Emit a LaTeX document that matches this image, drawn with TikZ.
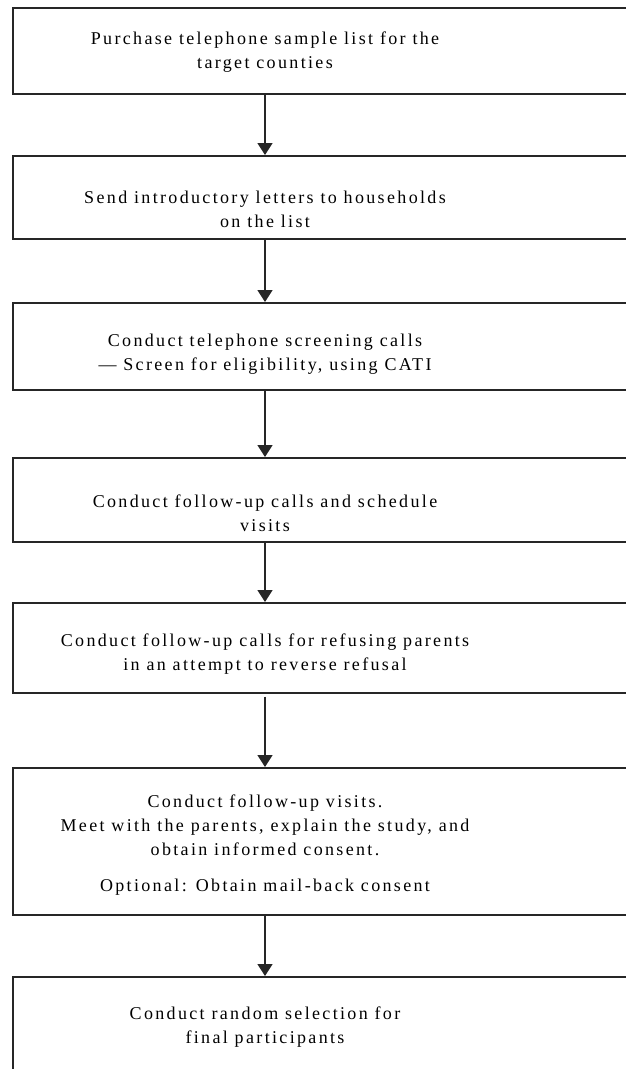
\documentclass[tikz,border=0pt]{standalone}
\usepackage{fontspec}
\setmainfont[LetterSpace=13]{Liberation Serif}
\usepackage{tikz}
\usetikzlibrary{arrows.meta}

\begin{document}
\begin{tikzpicture}[x=1pt,y=1pt,
  stepbox/.style={draw=black!85,line width=1.6pt,minimum width=660pt,anchor=north west,inner sep=0pt},
  steptext/.style={align=center,inner sep=0pt,font=\fontsize{18}{24}\selectfont},
  flow/.style={draw=black!85,line width=1.6pt,-{Triangle[width=15pt,length=12pt]}}]
\useasboundingbox (0,0) rectangle (626,-1069);
\clip (0,0) rectangle (626,-1069);

% Boxes (they run past the right edge)
\node[stepbox,minimum height=86pt] (b1) at (12,-7) {};
\node[stepbox,minimum height=83pt] (b2) at (12,-155) {};
\node[stepbox,minimum height=87pt] (b3) at (12,-302) {};
\node[stepbox,minimum height=84pt] (b4) at (12,-457) {};
\node[stepbox,minimum height=90pt] (b5) at (12,-602) {};
\node[stepbox,minimum height=147pt] (b6) at (12,-767) {};
\node[stepbox,minimum height=120pt] (b7) at (12,-976) {};

% Texts
\coordinate (axis) at (265,0);
\node[steptext] (t1) at (265,-52) {Purchase telephone sample list for the\\target counties};
\node[steptext] (t2) at (265,-209) {Send introductory letters to households\\on the list};
\node[steptext] (t3) at (265,-354) {Conduct telephone screening calls\\— Screen for eligibility, using CATI};
\node[steptext] (t4) at (265,-513) {Conduct follow-up calls and schedule\\visits};
\node[steptext] (t5) at (265,-654) {Conduct follow-up calls for refusing parents\\in an attempt to reverse refusal};
\node[steptext] (t6) at (265,-845) {Conduct follow-up visits.\\Meet with the parents, explain the study, and\\obtain informed consent.\\[12pt]Optional: Obtain mail-back consent};
\node[steptext] (t7) at (265,-1027) {Conduct random selection for\\final participants};

% Arrows
\draw[flow] (b1.south -| axis) -- (b2.north -| axis);
\draw[flow] (b2.south -| axis) -- (b3.north -| axis);
\draw[flow] (b3.south -| axis) -- (b4.north -| axis);
\draw[flow] (b4.south -| axis) -- (b5.north -| axis);
\draw[flow,shorten <=3pt] (b5.south -| axis) -- (b6.north -| axis);
\draw[flow] (b6.south -| axis) -- (b7.north -| axis);
\end{tikzpicture}
\end{document}
